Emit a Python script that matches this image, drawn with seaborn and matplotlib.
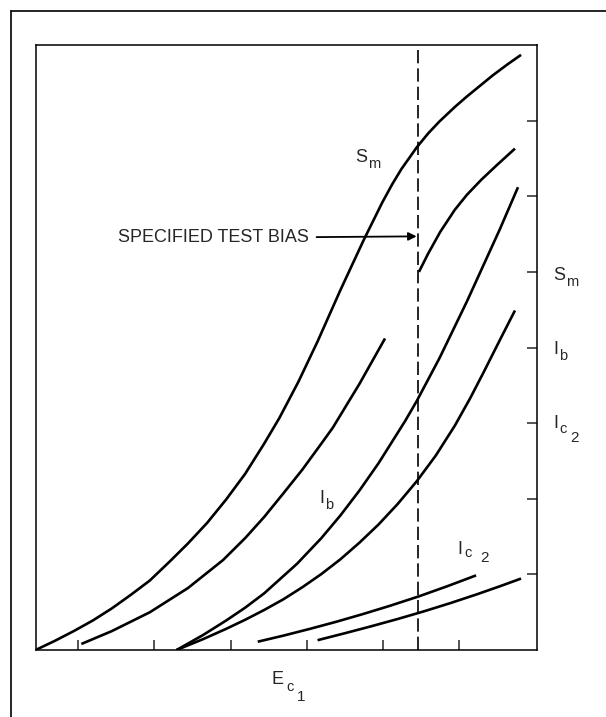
import numpy as np
import matplotlib
matplotlib.use('Agg')
import matplotlib.pyplot as plt
from matplotlib.lines import Line2D
import seaborn as sns

# curve readings (x: grid bias scale, y: output scale)
sm_x = [0, 0.25, 0.5, 0.75, 1.0, 1.25, 1.5, 1.77, 2.0, 2.25, 2.5, 2.75, 3.0, 3.2, 3.45, 3.7,
        4.0, 4.3, 4.55, 4.68, 4.8, 5.0, 5.15, 5.3, 5.5, 5.66, 5.83, 6.0, 6.2, 6.37]
sm_y = [0, 0.12, 0.25, 0.39, 0.55, 0.73, 0.92, 1.18, 1.41, 1.68, 1.99, 2.33, 2.73, 3.07, 3.55, 4.08,
        4.76, 5.41, 5.92, 6.16, 6.36, 6.645, 6.83, 6.99, 7.18, 7.32, 7.46, 7.60, 7.75, 7.87]

ib_x = [0.6, 1.0, 1.5, 2.0, 2.46, 2.75, 3.0, 3.25, 3.5, 3.75, 3.9, 4.25, 4.585]
ib_y = [0.08, 0.25, 0.5, 0.82, 1.19, 1.48, 1.76, 2.07, 2.385, 2.73, 2.94, 3.52, 4.12]

sm2_x = [5.03, 5.15, 5.31, 5.5, 5.66, 5.85, 6.05, 6.29]
sm2_y = [5.0, 5.24, 5.53, 5.82, 6.02, 6.22, 6.41, 6.63]

ib2_x = [1.85, 2.2, 2.5, 2.75, 3.0, 3.43, 3.75, 4.0, 4.25, 4.5, 4.85, 5.0, 5.3, 5.66, 6.09, 6.33]
ib2_y = [0, 0.2, 0.39, 0.56, 0.75, 1.14, 1.48, 1.78, 2.11, 2.47, 3.03, 3.29, 3.86, 4.61, 5.56, 6.12]

ic_x = [1.85, 2.2, 2.5, 2.75, 3.0, 3.25, 3.5, 3.75, 4.0, 4.25, 4.5, 4.75, 5.0, 5.25, 5.5, 5.7,
        5.88, 6.1, 6.29]
ic_y = [0, 0.145, 0.28, 0.40, 0.53, 0.67, 0.83, 1.005, 1.20, 1.42, 1.66, 1.93, 2.23, 2.57, 2.965,
        3.325, 3.675, 4.115, 4.49]

ic2_x = [2.915, 3.25, 3.6, 3.95, 4.3, 4.65, 5.03, 5.4, 5.78]
ic2_y = [0.11, 0.19, 0.28, 0.375, 0.477, 0.585, 0.71, 0.843, 0.987]

ic3_x = [3.7, 4.05, 4.4, 4.75, 5.1, 5.45, 5.8, 6.1, 6.37]
ic3_y = [0.13, 0.22, 0.313, 0.41, 0.513, 0.623, 0.74, 0.846, 0.945]

test_bias = 5.02
xticks = [0.56, 1.56, 2.56, 3.56, 4.56, 5.56]
yticks = [1, 2, 3, 4, 5, 6, 7]

sns.set_style('white')
plt.rcParams['font.family'] = ['Liberation Sans', 'DejaVu Sans']

fig = plt.figure(figsize=(6.06, 7.17), dpi=100)
ax = fig.add_axes([0.0587, 0.0934, 0.8269, 0.8438])

curves = [(sm_x, sm_y), (ib_x, ib_y), (sm2_x, sm2_y), (ib2_x, ib2_y),
          (ic_x, ic_y), (ic2_x, ic2_y), (ic3_x, ic3_y)]
for cx, cy in curves:
    sns.lineplot(x=cx, y=cy, ax=ax, color='black', lw=1.9, sort=False,
                 solid_joinstyle='round', solid_capstyle='butt')

ax.axvline(test_bias, color='black', lw=1.2, linestyle=(0, (8, 3)))

ax.set_xlim(0, 6.575)
ax.set_ylim(0, 8)
ax.set_xticks(xticks)
ax.set_xticklabels([])
ax.yaxis.tick_right()
ax.set_yticks(yticks)
ax.set_yticklabels([])
ax.tick_params(axis='x', direction='in', length=7.5, width=1.1, bottom=True)
ax.tick_params(axis='y', direction='in', length=7.5, width=1.1, right=True, left=False)
for s in ax.spines.values():
    s.set_linewidth(1.1)
    s.set_color('black')


def sub_label(x, y, parts, trans):
    # parts: (text, dx points, dy points, size)
    for txt, dx, dy, size in parts:
        ax.annotate(txt, xy=(x, y), xycoords=trans, xytext=(dx, dy), textcoords='offset points',
                    fontsize=size, ha='left', va='baseline', annotation_clip=False)


sm_parts = [('S', 0, 0, 13), ('m', 9.3, -4, 10.5)]
ib_parts = [('I', 0, 0, 13), ('b', 4.4, -4.3, 10.5)]
ic_parts_in = [('I', 0, 0, 13), ('c', 4.6, -2.5, 10.5), ('2', 16, -5.5, 11)]
ic_parts_r = [('I', 0, 0, 13), ('c', 4.4, -3.5, 10.5), ('2', 12.5, -10, 11)]
ec_parts = [('E', 0, 0, 13), ('c', 11, -5, 10.5), ('1', 18.5, -12, 11)]

# labels on the curves
sub_label(4.19, 6.45, sm_parts, ax.transData)
sub_label(3.72, 1.95, ib_parts, ax.transData)
sub_label(5.54, 1.27, ic_parts_in, ax.transData)

# scale labels on the right side
rtrans = ax.get_yaxis_transform()
sub_label(1.0327, 4.89, sm_parts, rtrans)
sub_label(1.0327, 3.92, ib_parts, rtrans)
sub_label(1.0327, 2.93, ic_parts_r, rtrans)

# axis label under the plot
sub_label(3.09, -0.45, ec_parts, ax.transData)

ax.annotate('SPECIFIED TEST BIAS', xy=(test_bias - 0.02, 5.47), xytext=(1.085, 5.45),
            fontsize=13, va='center', ha='left',
            arrowprops=dict(arrowstyle='-|>', color='black', lw=1.3, mutation_scale=12,
                            shrinkA=3, shrinkB=0))

# outer frame of the figure
fig.add_artist(Line2D([11 / 606, 11 / 606], [0, 1 - 10.7 / 717], color='black', lw=1.2))
fig.add_artist(Line2D([11 / 606, 1], [1 - 10.7 / 717, 1 - 10.7 / 717], color='black', lw=1.2))

fig.savefig('out.png', dpi=100, facecolor='white')
plt.close(fig)
